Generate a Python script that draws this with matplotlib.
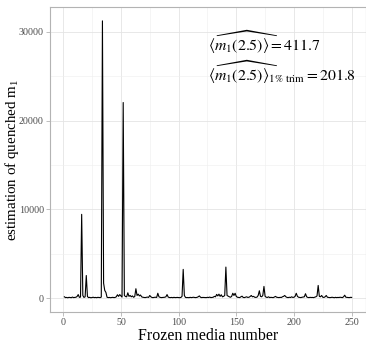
import numpy as np
import matplotlib
matplotlib.use("Agg")
import matplotlib.pyplot as plt
from matplotlib.ticker import MultipleLocator

# estimated quenched m1 per frozen medium
media_number = np.arange(1, 251)
m1_estimate = [
    150, 60, 80, 40, 90, 70, 50, 120, 60, 80,
    100, 180, 400, 90, 120, 9440, 300, 80, 150, 2550,
    180, 60, 90, 40, 70, 100, 60, 80, 50, 90,
    70, 60, 120, 31240, 1690, 870, 650, 100, 60, 80,
    50, 70, 90, 60, 80, 150, 380, 200, 400, 250,
    120, 22040, 300, 180, 150, 600, 200, 300, 150, 250,
    100, 180, 1060, 300, 450, 250, 350, 150, 100, 80,
    60, 90, 120, 80, 300, 150, 70, 60, 90, 100,
    80, 550, 150, 90, 60, 70, 80, 100, 150, 400,
    120, 70, 60, 80, 50, 90, 60, 70, 80, 60,
    50, 80, 200, 3240, 300, 80, 60, 70, 50, 90,
    60, 80, 100, 70, 60, 90, 150, 250, 100, 60,
    80, 70, 50, 60, 90, 70, 120, 60, 80, 100,
    200, 150, 420, 250, 450, 200, 380, 150, 200, 300,
    3500, 300, 220, 150, 100, 200, 550, 300, 550, 200,
    100, 80, 60, 150, 220, 80, 60, 100, 150, 80,
    100, 180, 300, 150, 200, 100, 80, 120, 300, 830,
    200, 150, 300, 1320, 200, 100, 80, 150, 60, 90,
    80, 60, 120, 200, 100, 80, 60, 90, 70, 150,
    200, 300, 150, 80, 60, 100, 70, 150, 80, 100,
    200, 550, 200, 100, 80, 60, 100, 120, 150, 500,
    150, 80, 60, 90, 70, 80, 60, 100, 150, 250,
    1430, 200, 150, 300, 100, 80, 150, 300, 100, 80,
    60, 70, 100, 80, 50, 90, 60, 80, 70, 100,
    80, 60, 150, 330, 100, 80, 70, 60, 90, 80,
]

x_ticks = [0, 50, 100, 150, 200, 250]
y_ticks = [0, 10000, 20000, 30000]

plt.rcParams["font.family"] = ["Liberation Serif", "DejaVu Serif"]
plt.rcParams["mathtext.fontset"] = "stix"

W, H = 366, 344
fig = plt.figure(figsize=(W / 100, H / 100), dpi=100)
ax = fig.add_axes([50 / W, 32 / H, 316 / W, 305 / H])

ax.plot(media_number, m1_estimate, color="black", linewidth=0.8)

# ggplot-like 5% expansion
xr = 250 - 1
ax.set_xlim(1 - 0.05 * xr, 250 + 0.05 * xr)
ymax = max(m1_estimate)
ax.set_ylim(-0.05 * ymax, ymax * 1.05)

ax.set_xticks(x_ticks)
ax.set_yticks(y_ticks)
ax.xaxis.set_minor_locator(MultipleLocator(25))
ax.yaxis.set_minor_locator(MultipleLocator(5000))
ax.grid(True, which="major", color="#e4e4e4", linewidth=0.6)
ax.grid(True, which="minor", color="#eeeeee", linewidth=0.4)
ax.set_axisbelow(True)

for sp in ax.spines.values():
    sp.set_color("#b3b3b3")
    sp.set_linewidth(0.8)
ax.tick_params(which="major", length=3, width=0.6, color="#b3b3b3",
               labelsize=7.2, labelcolor="#4d4d4d", pad=1.5)
ax.tick_params(which="minor", length=0)

ax.set_xlabel("Frozen media number", fontsize=11.5, va="baseline")
ax.xaxis.set_label_coords(0.5, (312 - 340) / 305)
ax.set_ylabel(r"estimation of quenched m$_\mathregular{1}$", fontsize=10.8)
ax.yaxis.set_label_coords((21 - 50) / 316, 0.5)

ax.text(0.50, 0.883, r"$\widehat{\langle m_1(2.5)\rangle} = 411.7$",
        transform=ax.transAxes, fontsize=11.3, ha="left", va="center")
ax.text(0.50, 0.787, r"$\widehat{\langle m_1(2.5)\rangle}_{\mathrm{1\%\ trim}} = 201.8$",
        transform=ax.transAxes, fontsize=11.3, ha="left", va="center")

fig.savefig("out.png", dpi=100)
